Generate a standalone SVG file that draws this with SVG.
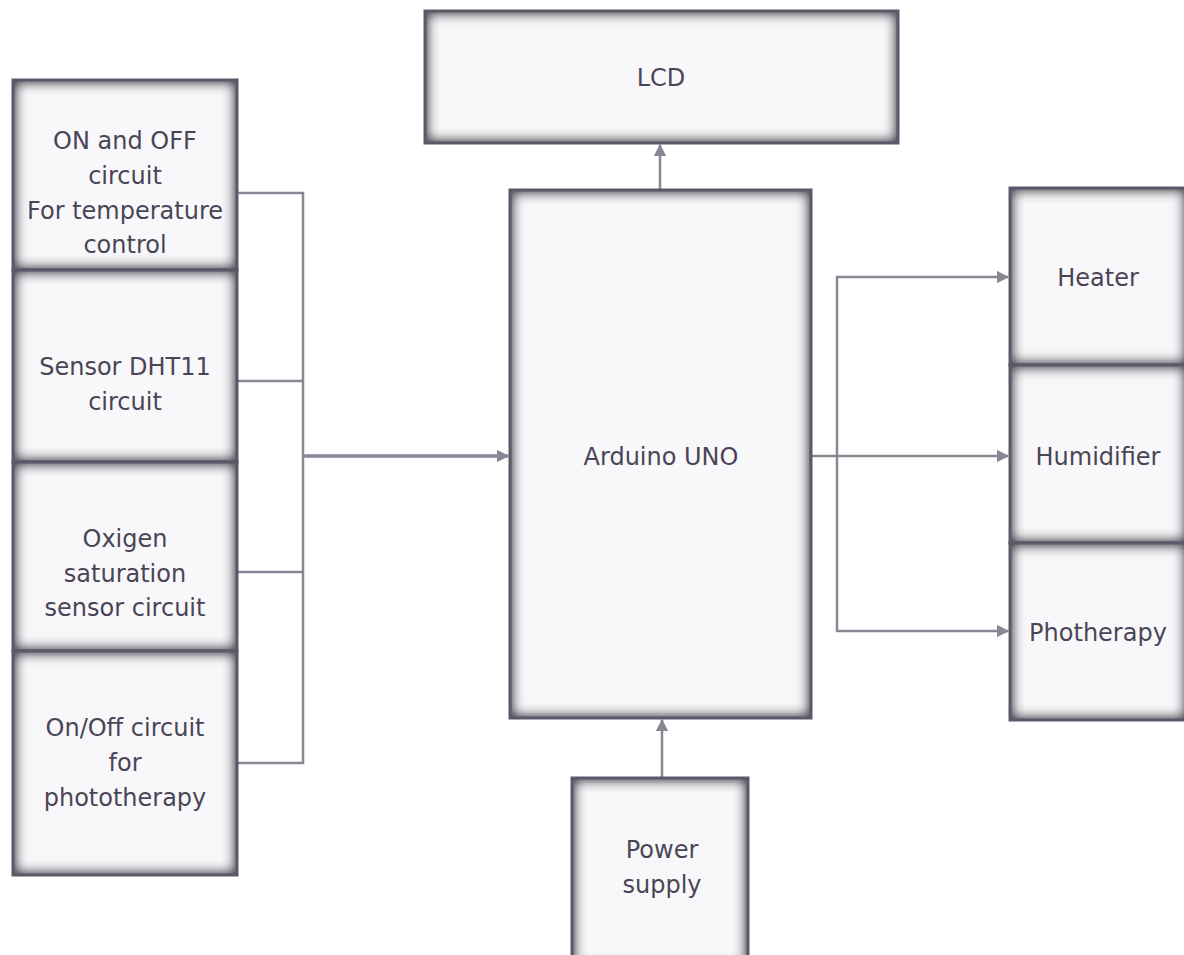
<svg xmlns="http://www.w3.org/2000/svg" width="1184" height="955" viewBox="0 0 1184 955">
<defs>
<filter id="inner" x="-15%" y="-15%" width="130%" height="130%">
<feFlood flood-color="#4e4858" result="f"/>
<feComposite in="f" in2="SourceAlpha" operator="out" result="o"/>
<feGaussianBlur in="o" stdDeviation="7" result="b"/>
<feComposite in="b" in2="SourceAlpha" operator="in" result="s"/>
<feMerge><feMergeNode in="SourceGraphic"/><feMergeNode in="s"/><feMergeNode in="s"/><feMergeNode in="s"/></feMerge>
</filter>
<marker id="ah" viewBox="0 0 10 10" refX="9" refY="5" markerWidth="5" markerHeight="5" markerUnits="strokeWidth" orient="auto">
<path d="M0,0 L10,5 L0,10 Z" fill="#8a8694"/>
</marker>
<marker id="ah2" viewBox="0 0 10 10" refX="9" refY="5" markerWidth="3.6" markerHeight="3.6" markerUnits="strokeWidth" orient="auto">
<path d="M0,0 L10,5 L0,10 Z" fill="#8a8694"/>
</marker>
</defs>
<style>
.bf{fill:#f8f8fa;filter:url(#inner)}
.bs{fill:none;stroke:#5d5868;stroke-width:3}
.t{font-family:"DejaVu Sans",Verdana,sans-serif;font-size:24px;fill:#4a4556;text-anchor:middle}
.c{fill:none;stroke:#8a8694;stroke-width:2.5}
.cm{fill:none;stroke:#8a8694;stroke-width:3.5}
</style>
<rect width="1184" height="955" fill="#ffffff"/>
<g id="connectors">
<path class="c" d="M237,193 H303 V763 H237 M237,381 H303 M237,572 H303"/>
<path class="cm" d="M303,456 H508" marker-end="url(#ah2)"/>
<path class="c" d="M660,190 V145" marker-end="url(#ah)"/>
<path class="c" d="M662,778 V720" marker-end="url(#ah)"/>
<path class="c" d="M811,456 H1008" marker-end="url(#ah)"/>
<path class="c" d="M837,456 V277 H1008" marker-end="url(#ah)"/>
<path class="c" d="M837,456 V631 H1008" marker-end="url(#ah)"/>
</g>
<g id="lcd">
<rect class="bf" x="425" y="11" width="473" height="132"/>
<rect class="bs" x="425" y="11" width="473" height="132"/>
<text class="t" x="661" y="86">LCD</text>
</g>
<g id="n1">
<rect class="bf" x="13" y="80" width="224" height="190"/>
<rect class="bs" x="13" y="80" width="224" height="190"/>
<text class="t" x="125" y="149">ON and OFF</text>
<text class="t" x="125" y="184">circuit</text>
<text class="t" x="125" y="219">For temperature</text>
<text class="t" x="125" y="253">control</text>
</g>
<g id="n2">
<rect class="bf" x="13" y="270" width="224" height="192"/>
<rect class="bs" x="13" y="270" width="224" height="192"/>
<text class="t" x="125" y="375">Sensor DHT11</text>
<text class="t" x="125" y="410">circuit</text>
</g>
<g id="n3">
<rect class="bf" x="13" y="462" width="224" height="189"/>
<rect class="bs" x="13" y="462" width="224" height="189"/>
<text class="t" x="125" y="547">Oxigen</text>
<text class="t" x="125" y="582">saturation</text>
<text class="t" x="125" y="616">sensor circuit</text>
</g>
<g id="n4">
<rect class="bf" x="13" y="651" width="224" height="224"/>
<rect class="bs" x="13" y="651" width="224" height="224"/>
<text class="t" x="125" y="736">On/Off circuit</text>
<text class="t" x="125" y="771">for</text>
<text class="t" x="125" y="806">phototherapy</text>
</g>
<g id="arduino">
<rect class="bf" x="510" y="190" width="301" height="528"/>
<rect class="bs" x="510" y="190" width="301" height="528"/>
<text class="t" x="661" y="465">Arduino UNO</text>
</g>
<g id="power">
<rect class="bf" x="572" y="778" width="176" height="190"/>
<rect class="bs" x="572" y="778" width="176" height="190"/>
<text class="t" x="662" y="858">Power</text>
<text class="t" x="662" y="893">supply</text>
</g>
<g id="heater">
<rect class="bf" x="1010" y="188" width="177" height="177"/>
<rect class="bs" x="1010" y="188" width="177" height="177"/>
<text class="t" x="1098" y="286">Heater</text>
</g>
<g id="humidifier">
<rect class="bf" x="1010" y="365" width="177" height="178"/>
<rect class="bs" x="1010" y="365" width="177" height="178"/>
<text class="t" x="1098" y="465">Humidifier</text>
</g>
<g id="phototherapy">
<rect class="bf" x="1010" y="543" width="177" height="177"/>
<rect class="bs" x="1010" y="543" width="177" height="177"/>
<text class="t" x="1098" y="641">Photherapy</text>
</g>
</svg>
